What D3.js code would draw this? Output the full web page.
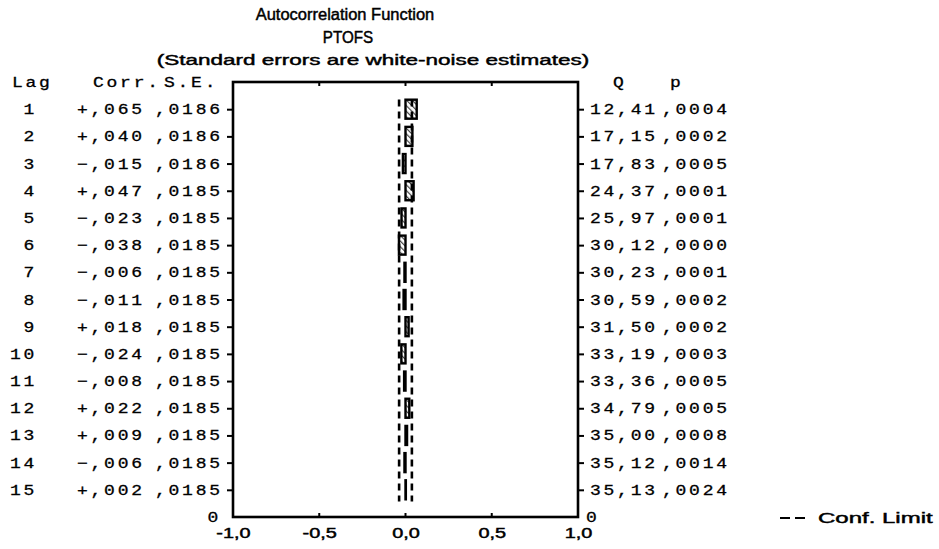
<!DOCTYPE html>
<html>
<head>
<meta charset="utf-8">
<script src="https://cdn.jsdelivr.net/npm/d3@7"></script>
<style>
  html, body { margin: 0; padding: 0; background: #fff; }
  svg { display: block; }
  .mono { font-family: "Courier New", "Liberation Mono", monospace; font-size: 15px; letter-spacing: 2.3px; fill: #000; stroke: #000; stroke-width: 0.3px; }
  .sans { font-family: Arial, "Liberation Sans", sans-serif; fill: #000; stroke: #000; stroke-width: 0.45px; }
</style>
</head>
<body>
<svg id="chart" width="939" height="549"></svg>
<script>
// Autocorrelation table for PTOFS, lags 1..15
const lags = [1, 2, 3, 4, 5, 6, 7, 8, 9, 10, 11, 12, 13, 14, 15];
const corr = [0.065, 0.040, -0.015, 0.047, -0.023, -0.038, -0.006, -0.011, 0.018, -0.024, -0.008, 0.022, 0.009, -0.006, 0.002];
const stdErr = [0.0186, 0.0186, 0.0186, 0.0185, 0.0185, 0.0185, 0.0185, 0.0185, 0.0185, 0.0185, 0.0185, 0.0185, 0.0185, 0.0185, 0.0185];
const qStat = [12.41, 17.15, 17.83, 24.37, 25.97, 30.12, 30.23, 30.59, 31.50, 33.19, 33.36, 34.79, 35.00, 35.12, 35.13];
const pVal = [0.0004, 0.0002, 0.0005, 0.0001, 0.0001, 0.0000, 0.0001, 0.0002, 0.0002, 0.0003, 0.0005, 0.0005, 0.0008, 0.0014, 0.0024];
const xTicks = [-1, -0.5, 0, 0.5, 1];
const titleLines = ["Autocorrelation Function", "PTOFS", "(Standard errors are white-noise estimates)"];

const svg = d3.select("#chart");

const plotL = 233, plotR = 578, plotT = 82, plotB = 517;
const x = d3.scaleLinear().domain([-1, 1]).range([plotL, plotR]);
// lag k sits at position 16 - k, position 0 is the bottom edge
const y = d3.scaleLinear().domain([0, 16]).range([plotB, plotT]);
const yLag = k => y(16 - k);
const step = y(0) - y(1);

// the printout uses wide, horizontally stretched lettering
const SANS_SX = 1.42, MONO_SX = 1.2;

const comma = s => s.replace(".", ",");
const fmtCorr = v => (v < 0 ? "\u2212" : "+") + comma(d3.format(".3f")(Math.abs(v))).replace(/^0/, "");
const fmtSE = v => comma(d3.format(".4f")(v)).replace(/^0/, "");
const fmtQ = v => comma(d3.format(".2f")(v));
const fmtTick = v => comma(d3.format(".1f")(v)).replace("\u2212", "-");

function label(parent, cls, px, py, txt, anchor, sx, size) {
  const t = parent.append("text").attr("class", cls)
    .attr("transform", `translate(${px},${py}) scale(${sx},1)`)
    .attr("text-anchor", anchor || "start")
    .text(txt);
  if (size) t.style("font-size", size + "px");
  return t;
}

// hatch pattern for the bars
const defs = svg.append("defs");
const pat = defs.append("pattern")
  .attr("id", "hatch").attr("patternUnits", "userSpaceOnUse")
  .attr("width", 4).attr("height", 4)
  .attr("patternTransform", "rotate(-45)");
pat.append("rect").attr("width", 4).attr("height", 4).attr("fill", "#fff");
pat.append("line").attr("x1", 0).attr("y1", 0).attr("x2", 0).attr("y2", 4)
  .attr("stroke", "#444").attr("stroke-width", 2.4);

// titles
const titleX = [345, 348, 373], titleY = [20, 43, 65], titleSX = [1.03, 0.95, 1.5], titleSize = [16, 16, 15];
titleLines.forEach((t, i) => label(svg, "sans", titleX[i], titleY[i], t, "middle", titleSX[i], titleSize[i]));

// column headers
const headers = [
  { t: "Lag", x: 12 },
  { t: "Corr.", x: 93 },
  { t: "S.E.", x: 164 },
  { t: "Q", x: 613 },
  { t: "p", x: 670 }
];
headers.forEach(h => label(svg, "mono", h.x, yLag(0) + 5, h.t, "start", MONO_SX));

// table rows
const rows = lags.map((k, i) => ({ k, c: corr[i], se: stdErr[i], q: qStat[i], p: pVal[i] }));
rows.forEach(d => {
  const ty = yLag(d.k) + 5;
  label(svg, "mono", 37, ty, String(d.k), "end", MONO_SX);
  label(svg, "mono", 77, ty, fmtCorr(d.c), "start", MONO_SX);
  label(svg, "mono", 155, ty, fmtSE(d.se), "start", MONO_SX);
  label(svg, "mono", 590, ty, fmtQ(d.q), "start", MONO_SX);
  label(svg, "mono", 662, ty, fmtSE(d.p), "start", MONO_SX);
});

// "0" labels at the bottom edge
label(svg, "mono", 221, y(0) + 5, "0", "end", MONO_SX);
label(svg, "mono", 586, y(0) + 5, "0", "start", MONO_SX);

// bars
const barH = 19;
svg.selectAll("rect.bar").data(rows).join("rect")
  .attr("class", "bar")
  .attr("x", d => Math.min(x(0), x(d.c)))
  .attr("width", d => Math.abs(x(d.c) - x(0)))
  .attr("y", d => yLag(d.k) - barH / 2)
  .attr("height", barH)
  .attr("fill", "url(#hatch)")
  .attr("stroke", "#000").attr("stroke-width", 2.4);

// confidence limits (±2 S.E.)
const conf = svg.append("g").attr("fill", "none").attr("stroke", "#000")
  .attr("stroke-width", 2.6).attr("stroke-dasharray", "7,5");
[-1, 1].forEach(s => {
  const line = d3.line().x(d => d[0]).y(d => d[1]);
  const pts = [];
  rows.forEach(d => {
    const xv = x(s * 2 * d.se);
    pts.push([xv, yLag(d.k) - step / 2], [xv, yLag(d.k) + step / 2]);
  });
  pts[0][1] += 4;
  pts[pts.length - 1][1] -= 2;
  conf.append("path").attr("d", line(pts));
});

// frame
svg.append("rect").attr("x", plotL).attr("y", plotT)
  .attr("width", plotR - plotL).attr("height", plotB - plotT)
  .attr("fill", "none").attr("stroke", "#000").attr("stroke-width", 2.6);

// x ticks on the top and bottom edges (inside)
const innerTicks = xTicks.filter(v => v > -1 && v < 1);
svg.selectAll("line.tt").data(innerTicks).join("line")
  .attr("class", "tt")
  .attr("x1", d => x(d)).attr("x2", d => x(d))
  .attr("y1", plotT).attr("y2", plotT + 4)
  .attr("stroke", "#000").attr("stroke-width", 2);
svg.selectAll("line.bt").data(innerTicks).join("line")
  .attr("class", "bt")
  .attr("x1", d => x(d)).attr("x2", d => x(d))
  .attr("y1", plotB).attr("y2", plotB - 4)
  .attr("stroke", "#000").attr("stroke-width", 2);

// lag ticks on left and right edges (outside)
const yAxisL = d3.axisLeft(y).tickValues(d3.range(1, 16)).tickSize(6).tickFormat("");
const yAxisR = d3.axisRight(y).tickValues(d3.range(1, 16)).tickSize(6).tickFormat("");
const gl = svg.append("g").attr("transform", `translate(${plotL},0)`).call(yAxisL);
const gr = svg.append("g").attr("transform", `translate(${plotR},0)`).call(yAxisR);
[gl, gr].forEach(g => {
  g.select(".domain").remove();
  g.selectAll("line").attr("stroke", "#000").attr("stroke-width", 2);
});

// x tick labels
const xAxis = d3.axisBottom(x).tickValues(xTicks).tickSize(0).tickFormat("");
const gx = svg.append("g").attr("transform", `translate(0,${plotB})`).call(xAxis);
gx.select(".domain").remove();
gx.selectAll(".tick").each(function (d) {
  label(d3.select(this), "sans", 0, 21, fmtTick(d), "middle", SANS_SX, 14);
});

// legend
svg.append("line").attr("x1", 780).attr("x2", 806).attr("y1", 518).attr("y2", 518)
  .attr("stroke", "#000").attr("stroke-width", 2).attr("stroke-dasharray", "10,5");
label(svg, "sans", 818, 523, "Conf. Limit", "start", 1.6, 15);
</script>
</body>
</html>
